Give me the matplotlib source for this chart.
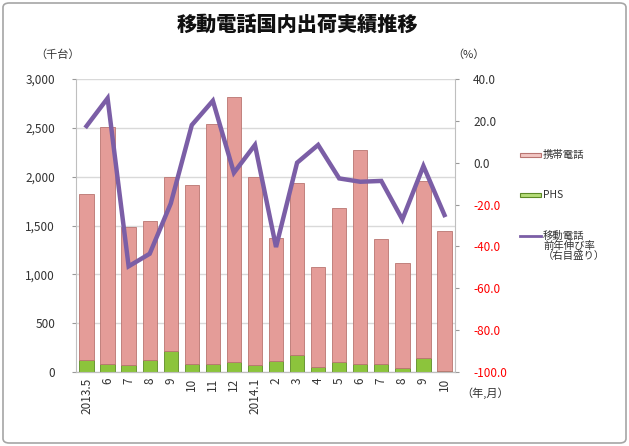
import matplotlib
matplotlib.use("Agg")
import matplotlib.pyplot as plt
from matplotlib.patches import FancyBboxPatch, Rectangle
from matplotlib.lines import Line2D

plt.rcParams['font.family'] = ['Noto Sans CJK JP', 'DejaVu Sans']

months = ["2013.5", "6", "7", "8", "9", "10", "11", "12", "2014.1",
          "2", "3", "4", "5", "6", "7", "8", "9", "10"]
phs = [120, 82, 75, 123, 210, 82, 80, 107, 67,
       112, 174, 51, 99, 82, 82, 41, 146, 15]
total = [1823, 2508, 1485, 1546, 1997, 1915, 2540, 2816, 1997,
         1372, 1935, 1075, 1680, 2273, 1362, 1116, 1955, 1444]
mobile = [t - p for t, p in zip(total, phs)]
growth = [17.5, 30.8, -49.5, -43.5, -19.5, 18.0, 29.6, -4.8, 8.5,
          -40.3, 0.0, 8.5, -7.5, -9.1, -8.7, -27.1, -1.6, -25.0]
legend_labels = ["携帯電話", "PHS", "移動電話\n前年伸び率\n（右目盛り）"]

fig = plt.figure(figsize=(6.29, 4.46), dpi=100)
W, H = 629, 446
ax = fig.add_axes([76 / W, 1 - 372 / H, (455 - 76) / W, (372 - 79) / H])
ax2 = ax.twinx()

x = list(range(len(months)))
pink = "#E49C98"
pink_edge = "#B97571"
green = "#8CC43C"
green_edge = "#5C8A26"
purple = "#7B5EA6"

ax.bar(x, phs, width=0.68, color=green, edgecolor=green_edge, linewidth=0.6, zorder=3)
ax.bar(x, mobile, bottom=phs, width=0.68, color=pink, edgecolor=pink_edge, linewidth=0.6, zorder=3)

ax2.plot(x, growth, color=purple, linewidth=3.2, solid_joinstyle='miter', zorder=4)

ax.set_xlim(-0.5, len(months) - 0.5)
ax.set_ylim(0, 3000)
ax.set_yticks(range(0, 3001, 500))
ax.set_yticklabels([f"{v:,}" for v in range(0, 3001, 500)], fontsize=8.5, color="#333333")
ax.grid(axis='y', color="#D9D9D9", linewidth=1.0, zorder=0)
ax.set_axisbelow(True)
ax.set_xticks(x)
ax.set_xticklabels(months, rotation=90, fontsize=8.5, color="#333333")
ax.tick_params(axis='x', length=0, pad=4)
ax.tick_params(axis='y', length=3, color="#999999", pad=12)

ax2.set_ylim(-100, 40)
rt = list(range(-100, 41, 20))
ax2.set_yticks(rt)
ax2.set_yticklabels([f"{v:.1f}" for v in rt], fontsize=8.5)
for lbl, v in zip(ax2.get_yticklabels(), rt):
    lbl.set_color("red" if v < 0 else "#333333")
ax2.tick_params(axis='y', length=3, color="#999999", pad=10)

for a in (ax, ax2):
    a.spines["top"].set_visible(False)
    a.spines["left"].set_color("#BFBFBF")
    a.spines["right"].set_color("#BFBFBF")
    a.spines["bottom"].set_color("#BFBFBF")
ax.spines["right"].set_visible(False)
ax2.spines["left"].set_visible(False)

# titles and units
fig.text(297 / W, 1 - 25 / H, "移動電話国内出荷実績推移", ha='center', va='center',
         fontsize=14.5, fontweight='heavy', color="#111111")
fig.text(58 / W, 1 - 55 / H, "（千台）", ha='center', va='center', fontsize=8, color="#333333")
fig.text(468 / W, 1 - 55 / H, "（%）", ha='center', va='center', fontsize=8, color="#333333")
fig.text(485 / W, 1 - 393 / H, "（年,月）", ha='center', va='center', fontsize=8, color="#333333")

# legend (drawn manually for left-aligned multi-line label)
hx0, hx1 = 520 / W, 541 / W
tx = 543 / W
ys = [155, 195, 236]
fig.patches.append(Rectangle((hx0, 1 - 157 / H), hx1 - hx0, 4 / H, transform=fig.transFigure,
                             facecolor="#F2C6C3", edgecolor=pink_edge, linewidth=0.8))
fig.patches.append(Rectangle((hx0, 1 - 197 / H), hx1 - hx0, 4 / H, transform=fig.transFigure,
                             facecolor="#B5DC78", edgecolor=green_edge, linewidth=0.8))
fig.lines.append(Line2D([hx0, hx1], [1 - 236 / H, 1 - 236 / H], transform=fig.transFigure,
                        color=purple, linewidth=2))
for lab, y in zip(legend_labels, ys):
    fig.text(tx, 1 - (y - 5) / H, lab, ha='left', va='top', fontsize=7.5,
             color="#333333", linespacing=1.0)

# outer border
border = FancyBboxPatch((3 / W, 3 / H), 1 - 6 / W, 1 - 6 / H,
                        boxstyle="round,pad=0,rounding_size=0.01",
                        transform=fig.transFigure, fill=False,
                        edgecolor="#A6A6A6", linewidth=1.2)
fig.patches.append(border)

fig.savefig("out.png", dpi=100)
